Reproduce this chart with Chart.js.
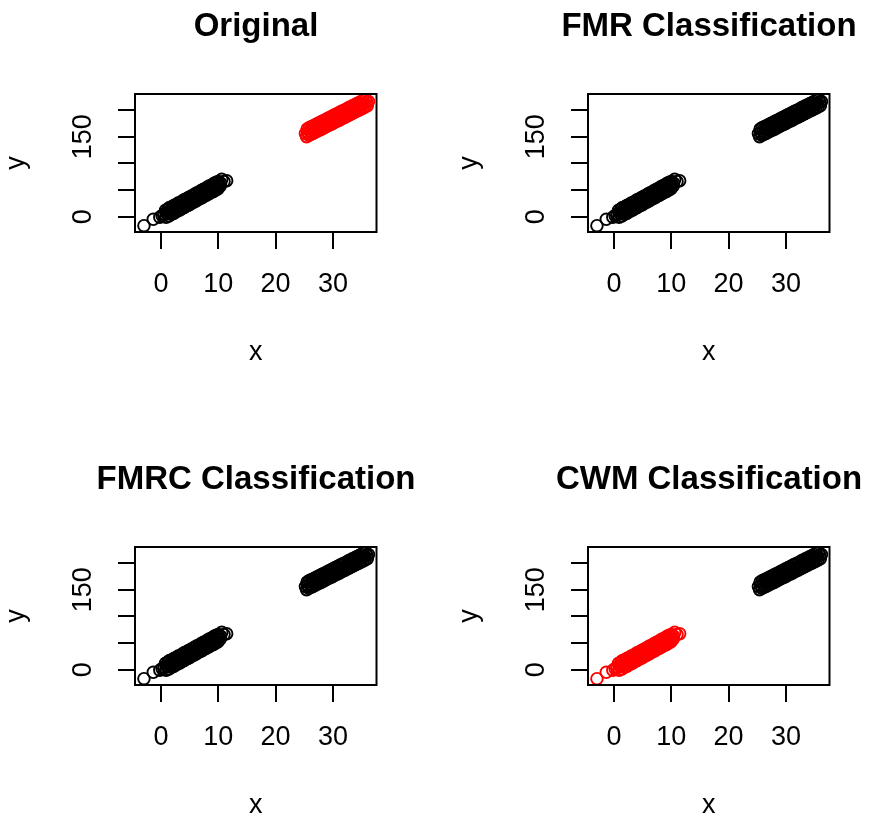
<!DOCTYPE html>
<html>
<head>
<meta charset="utf-8">
<title>Classification scatter</title>
<script src="https://cdn.jsdelivr.net/npm/chart.js@4.4.1/dist/chart.umd.min.js"></script>
<style>
  html, body { margin: 0; padding: 0; background: #fff; overflow: hidden; width: 869px; height: 819px; }
  canvas { position: absolute; }
</style>
</head>
<body>
<canvas id="c0" width="512" height="453" style="left:0px;top:0px"></canvas>
<canvas id="c1" width="512" height="453" style="left:453px;top:0px"></canvas>
<canvas id="c2" width="512" height="453" style="left:0px;top:453px"></canvas>
<canvas id="c3" width="512" height="453" style="left:453px;top:453px"></canvas>

<script>
// panel titles and axis ticks
var titles = ["Original", "FMR Classification", "FMRC Classification", "CWM Classification"];
var xTicks = [0, 10, 20, 30];
var yTicks = [0, 50, 100, 150, 200];
var yTickLabels = ["0", "", "", "150", ""];

// first group (lower left)
var groupAx = [-2.97, -1.34, -0.2,
  0.2, 0.6, 1.0, 1.3, 1.7, 2.1, 2.4, 2.8, 3.2, 3.5, 3.9, 4.3, 4.6, 5.0, 5.4, 5.7, 6.1, 6.5, 6.8, 7.2, 7.6, 7.9, 8.3, 8.7, 9.0, 9.4, 9.8, 10.1,
  0.8, 1.2, 1.5, 1.9, 2.3, 2.6, 3.0, 3.4, 3.7, 4.1, 4.5, 4.8, 5.2, 5.6, 5.9, 6.3, 6.7, 7.0, 7.4, 7.8, 8.1, 8.5, 8.9, 9.2, 9.6, 10.0,
  0.9, 1.4, 1.8, 2.2, 2.5, 2.9, 3.3, 3.6, 4.0, 4.4, 4.7, 5.1, 5.5, 5.8, 6.2, 6.6, 6.9, 7.3, 7.7, 8.0, 8.4, 8.8, 9.1, 9.5, 9.9,
  10.3, 10.4, 10.6, 11.0, 11.46];
var groupAy = [-16.9, -4.9, -1,
  2, 4.5, 6, 8.5, 10, 13.5, 14.5, 17.5, 19, 21.5, 23, 26.5, 27.5, 30.5, 32, 34.5, 36, 39.5, 40.5, 43.5, 45, 47.5, 49, 52.5, 53.5, 56.5, 58, 60.5,
  12, 14.5, 17, 18.5, 21.5, 22.5, 25.5, 27, 29.5, 32, 33.5, 36, 38.5, 40, 42.5, 45, 46.5, 49, 51.5, 53, 55.5, 58, 59.5, 62, 64.5, 66,
  -1, 1.5, 4.5, 6, 8.5, 10.5, 12.5, 15, 17, 20, 21, 23.5, 26.5, 27.5, 30, 33, 34, 36.5, 39.5, 40.5, 43, 46, 47, 49.5, 52,
  57, 63, 70, 66, 67.5];

// second group (upper right)
var groupBx = [
  25.2, 25.6, 26.0, 26.4, 26.7, 27.1, 27.5, 27.9, 28.3, 28.6, 29.0, 29.4, 29.8, 30.2, 30.5, 30.9, 31.3, 31.7, 32.1, 32.4, 32.8, 33.2, 33.6, 34.0, 34.3, 34.7, 35.1, 35.5, 35.9, 36.2,
  25.5, 25.9, 26.3, 26.6, 27.0, 27.4, 27.8, 28.1, 28.5, 28.9, 29.3, 29.7, 30.0, 30.4, 30.8, 31.2, 31.5, 31.9, 32.3, 32.7, 33.0, 33.4, 33.8, 34.2, 34.6, 34.9, 35.3, 35.7,
  25.4, 25.8, 26.2, 26.5, 26.9, 27.3, 27.7, 28.0, 28.4, 28.8, 29.2, 29.6, 29.9, 30.3, 30.7, 31.1, 31.4, 31.8, 32.2, 32.6, 32.9, 33.3, 33.7, 34.1, 34.5, 34.8, 35.2, 35.6, 36.0];
var groupBy = [
  156, 158, 160.5, 163, 164, 166.5, 168.5, 171, 172.5, 174.5, 177, 178.5, 181, 183.5, 185, 187, 189.5, 191, 193.5, 195.5, 197, 200, 201.5, 204, 205.5, 208, 210, 212, 214.5, 216,
  164.5, 167, 169, 170.5, 173, 175, 177, 179, 181, 183, 185.5, 187.5, 189, 191.5, 193.5, 196, 197.5, 199.5, 201.5, 204, 205.5, 208, 210, 212, 214, 216, 218, 220,
  150, 152.5, 154.5, 156, 158.5, 160.5, 162.5, 164, 166.5, 168.5, 171, 173, 174.5, 177, 179, 181, 183, 185, 187, 189.5, 191, 193, 195.5, 197.5, 199.5, 201.5, 203.5, 205.5, 208];

// colour of each group in each panel
var colorsA = ["#000000", "#000000", "#000000", "#FF0000"];
var colorsB = ["#FF0000", "#000000", "#000000", "#000000"];

var FONT = "'Liberation Sans', Arial, Helvetica, sans-serif";

function pts(xs, ys) {
  var out = [];
  for (var i = 0; i < xs.length; i++) out.push({x: xs[i], y: ys[i]});
  return out;
}

var boxPlugin = {
  id: 'box',
  afterDatasetsDraw: function(chart) {
    var a = chart.chartArea, c = chart.ctx;
    c.save();
    c.strokeStyle = '#000';
    c.lineWidth = 2;
    c.strokeRect(a.left, a.top, a.right - a.left, a.bottom - a.top);
    c.restore();
  }
};

function makeChart(id, i) {
  return new Chart(document.getElementById(id), {
    type: 'scatter',
    data: {
      datasets: [
        { data: pts(groupAx, groupAy), borderColor: colorsA[i] },
        { data: pts(groupBx, groupBy), borderColor: colorsB[i] }
      ]
    },
    options: {
      responsive: false,
      animation: false,
      events: [],
      layout: { padding: 0 },
      elements: {
        point: { radius: 5.8, hoverRadius: 5.8, borderWidth: 1.9, backgroundColor: 'rgba(0,0,0,0)' }
      },
      plugins: {
        legend: { display: false },
        tooltip: { enabled: false },
        title: {
          display: true,
          text: titles[i],
          color: '#000',
          font: { family: FONT, size: 33, weight: 'bold' },
          padding: { top: 7, bottom: 47.4 }
        }
      },
      scales: {
        x: {
          type: 'linear',
          min: -4.53,
          max: 37.6,
          afterBuildTicks: function(s) { s.ticks = xTicks.map(function(v) { return {value: v}; }); },
          afterFit: function(s) { s.height = 221; },
          grid: { drawOnChartArea: false, drawTicks: true, tickLength: 17, color: '#000', lineWidth: 2 },
          border: { display: false },
          ticks: {
            color: '#000', font: { family: FONT, size: 27 }, padding: 19,
            maxRotation: 0, autoSkip: false,
            callback: function(v) { return String(v); }
          },
          title: { display: true, text: 'x', color: '#000', font: { family: FONT, size: 27 }, padding: { top: 0, bottom: 84 } }
        },
        y: {
          type: 'linear',
          position: 'left',
          min: -28.7,
          max: 230,
          afterBuildTicks: function(s) { s.ticks = yTicks.map(function(v) { return {value: v}; }); },
          afterFit: function(s) { s.width = 135; },
          grid: { drawOnChartArea: false, drawTicks: true, tickLength: 17, color: '#000', lineWidth: 2 },
          border: { display: false },
          ticks: {
            color: '#000', font: { family: FONT, size: 27 }, padding: 11.5,
            minRotation: 90, maxRotation: 90, crossAlign: 'center', autoSkip: false,
            callback: function(v) { return yTickLabels[yTicks.indexOf(v)]; }
          },
          title: { display: true, text: 'y', color: '#000', font: { family: FONT, size: 27 }, padding: { top: 0, bottom: 0 } }
        },
        // empty right margin so the title centres over the plot region
        side: {
          type: 'linear',
          axis: 'y',
          position: 'right',
          min: 0,
          max: 1,
          afterFit: function(s) { s.width = 135.5; },
          grid: { display: false },
          border: { display: false },
          ticks: { display: false }
        }
      }
    },
    plugins: [boxPlugin]
  });
}

makeChart('c0', 0);
makeChart('c1', 1);
makeChart('c2', 2);
makeChart('c3', 3);
</script>
</body>
</html>
